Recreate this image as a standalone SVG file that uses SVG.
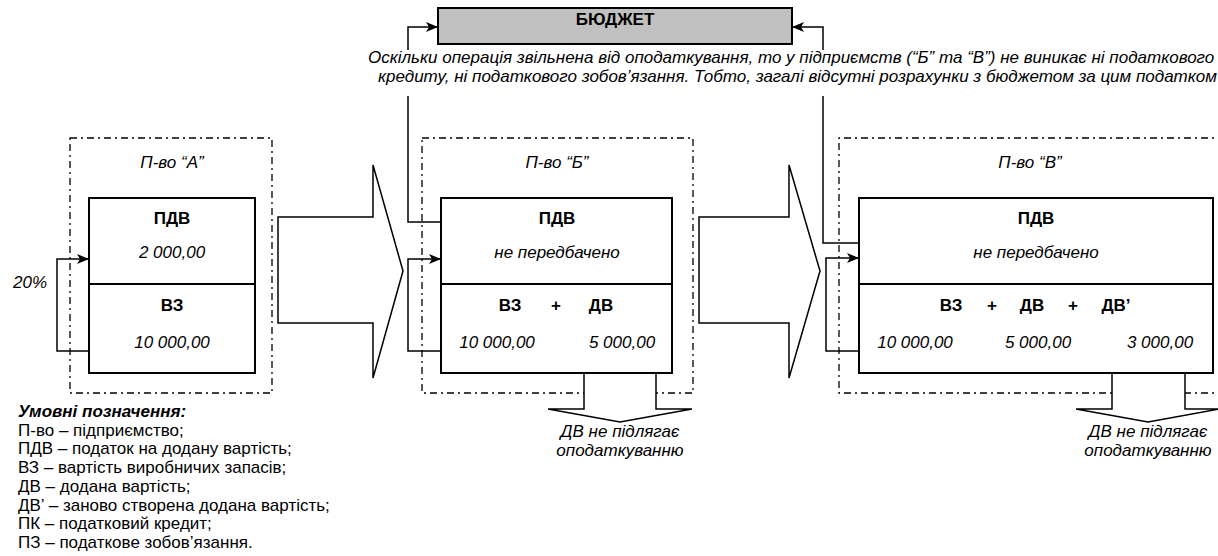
<svg xmlns="http://www.w3.org/2000/svg" width="1218" height="556" viewBox="0 0 1218 556">
<defs>
<marker id="ah" viewBox="0 0 12 10" markerWidth="12" markerHeight="10" refX="12" refY="5" orient="auto" markerUnits="userSpaceOnUse"><path d="M0,0 L12,5 L0,10 L3,5 z" fill="#000"/></marker>
</defs>
<style>
.box{fill:#fff;stroke:#000;stroke-width:2}
.frame{fill:none;stroke:#000;stroke-width:1.3;stroke-dasharray:7 4 2 4}
.ln{fill:none;stroke:#000;stroke-width:1.5}
.big{fill:#fff;stroke:#000;stroke-width:1.5}
text{font-family:"Liberation Sans",Arial,sans-serif;font-size:17px;fill:#000}
.b{font-weight:bold}
.i{font-style:italic}
.m{text-anchor:middle}
</style>
<rect width="1218" height="556" fill="#fff"/>

<g id="frames">
<rect class="frame" x="70" y="138" width="202" height="255"/>
<rect class="frame" x="422" y="138" width="271" height="255"/>
<path class="frame" d="M1225,138 H839 V393 H1225"/>
</g>

<g id="flow-arrows">
<polygon class="big" points="278,217 373,217 373,165 403,271 373,378 373,323 278,323"/>
<polygon class="big" points="699,217 789,217 789,165 820,271 789,378 789,323 699,323"/>
<polyline class="big" points="584,373 584,409 548,409 620,422 692,409 656,409 656,373"/>
<polyline class="big" points="1112,373 1112,409 1076,409 1148,422 1220,409 1185,409 1185,373"/>
</g>

<g id="budget">
<rect x="438" y="8" width="354" height="36" fill="#c0c0c0" stroke="#000" stroke-width="2"/>
<text class="b m" x="615" y="25">БЮДЖЕТ</text>
</g>

<g id="note">
<text class="i" x="368" y="63">Оскільки операція звільнена від оподаткування, то у підприємств (“Б” та “В”) не виникає ні податкового</text>
<text class="i" x="378" y="82">кредиту, ні податкового зобов’язання. Тобто, загалі відсутні розрахунки з бюджетом за цим податком</text>
</g>

<g id="enterprise-a">
<text class="i m" x="172" y="168">П-во “А”</text>
<rect class="box" x="89" y="198" width="166" height="175"/>
<line x1="89" y1="284" x2="255" y2="284" stroke="#000" stroke-width="2"/>
<text class="b m" x="172" y="224">ПДВ</text>
<text class="i m" x="172" y="258">2 000,00</text>
<text class="b m" x="172" y="311">ВЗ</text>
<text class="i m" x="172" y="348">10 000,00</text>
<text class="i" x="13" y="288">20%</text>
</g>

<g id="enterprise-b">
<text class="i m" x="557" y="168">П-во “Б”</text>
<rect class="box" x="441" y="198" width="231" height="175"/>
<line x1="441" y1="284" x2="672" y2="284" stroke="#000" stroke-width="2"/>
<text class="b m" x="557" y="224">ПДВ</text>
<text class="i m" x="557" y="258">не передбачено</text>
<text class="b m" x="510" y="311">ВЗ</text>
<text class="b m" x="556" y="311">+</text>
<text class="b m" x="601" y="311">ДВ</text>
<text class="i m" x="497" y="348">10 000,00</text>
<text class="i m" x="622" y="348">5 000,00</text>
<text class="i m" x="620" y="437">ДВ не підлягає</text>
<text class="i m" x="620" y="456">оподаткуванню</text>
</g>

<g id="enterprise-c">
<text class="i m" x="1030" y="168">П-во “В”</text>
<rect class="box" x="859" y="198" width="354" height="175"/>
<line x1="859" y1="284" x2="1213" y2="284" stroke="#000" stroke-width="2"/>
<text class="b m" x="1036" y="224">ПДВ</text>
<text class="i m" x="1036" y="258">не передбачено</text>
<text class="b m" x="951" y="311">ВЗ</text>
<text class="b m" x="992" y="311">+</text>
<text class="b m" x="1032" y="311">ДВ</text>
<text class="b m" x="1073" y="311">+</text>
<text class="b m" x="1116" y="311">ДВ’</text>
<text class="i m" x="915" y="348">10 000,00</text>
<text class="i m" x="1038" y="348">5 000,00</text>
<text class="i m" x="1160" y="348">3 000,00</text>
<text class="i m" x="1148" y="437">ДВ не підлягає</text>
<text class="i m" x="1148" y="456">оподаткуванню</text>
</g>

<g id="connectors">
<path class="ln" d="M441,222 H408 V96"/>
<path class="ln" d="M408,50 V27 H438" marker-end="url(#ah)"/>
<path class="ln" d="M859,243 H823 V96"/>
<path class="ln" d="M823,50 V27 H792" marker-end="url(#ah)"/>
<path class="ln" d="M89,351 H57 V259 H89" marker-end="url(#ah)"/>
<path class="ln" d="M441,351 H408 V259 H441" marker-end="url(#ah)"/>
<path class="ln" d="M859,351 H826 V258 H859" marker-end="url(#ah)"/>
</g>

<g id="legend">
<text class="b i" x="18" y="417">Умовні позначення:</text>
<text x="18" y="435.7">П-во – підприємство;</text>
<text x="18" y="454.4">ПДВ – податок на додану вартість;</text>
<text x="18" y="473.1">ВЗ – вартість виробничих запасів;</text>
<text x="18" y="491.8">ДВ – додана вартість;</text>
<text x="18" y="510.5">ДВ’ – заново створена додана вартість;</text>
<text x="18" y="529.2">ПК – податковий кредит;</text>
<text x="18" y="548">ПЗ – податкове зобов’язання.</text>
</g>
</svg>
